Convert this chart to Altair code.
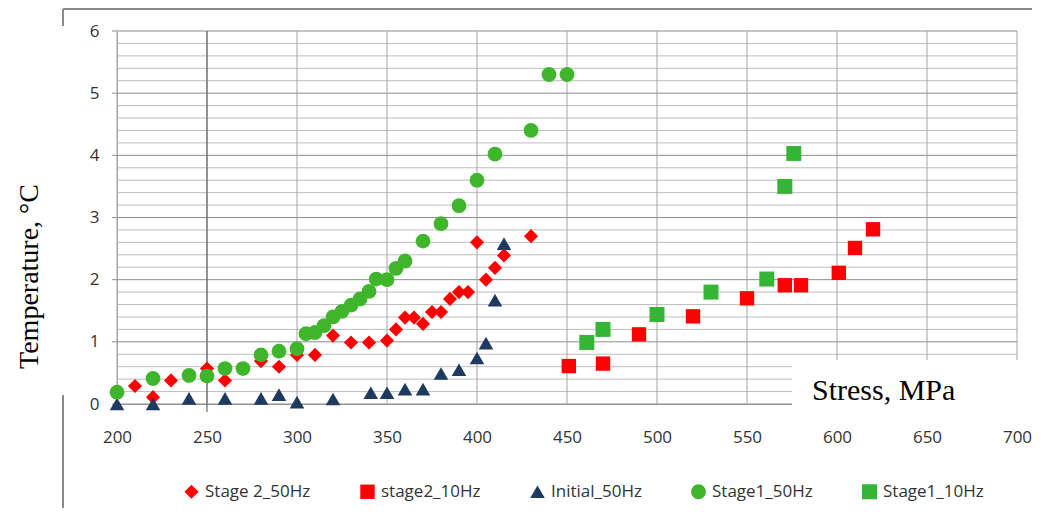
import altair as alt
import pandas as pd

series_names = ["Stage 2_50Hz", "stage2_10Hz", "Initial_50Hz", "Stage1_50Hz", "Stage1_10Hz"]
series_shapes = ["diamond", "square", "triangle-up", "circle", "square"]
series_colors = ["#ff0000", "#ff0000", "#1f3a60", "#3fb52b", "#35b535"]
series_sizes = [200, 225, 230, 290, 225]

stage2_50_x = [210, 220, 230, 250, 260, 280, 290, 300, 310, 320, 330, 340, 350, 355, 360, 365, 370, 375, 380, 385, 390, 395, 400, 405, 410, 415, 430]
stage2_50_y = [0.29, 0.11, 0.38, 0.57, 0.38, 0.69, 0.60, 0.79, 0.79, 1.10, 0.99, 0.99, 1.02, 1.20, 1.39, 1.39, 1.29, 1.48, 1.48, 1.69, 1.80, 1.80, 2.60, 2.00, 2.19, 2.39, 2.70]

stage2_10_x = [451, 470, 490, 520, 550, 571, 580, 601, 610, 620]
stage2_10_y = [0.61, 0.65, 1.12, 1.41, 1.70, 1.91, 1.91, 2.11, 2.51, 2.81]

initial_50_x = [200, 220, 240, 260, 280, 290, 300, 320, 341, 350, 360, 370, 380, 390, 400, 405, 410, 415]
initial_50_y = [0.0, 0.0, 0.09, 0.09, 0.09, 0.15, 0.03, 0.08, 0.18, 0.18, 0.24, 0.24, 0.49, 0.55, 0.74, 0.98, 1.67, 2.58]

stage1_50_x = [200, 220, 240, 250, 260, 270, 280, 290, 300, 305, 310, 315, 320, 325, 330, 335, 340, 344, 350, 355, 360, 370, 380, 390, 400, 410, 430, 440, 450]
stage1_50_y = [0.19, 0.41, 0.46, 0.45, 0.57, 0.57, 0.79, 0.85, 0.89, 1.13, 1.15, 1.26, 1.40, 1.49, 1.59, 1.69, 1.81, 2.01, 2.00, 2.18, 2.30, 2.62, 2.90, 3.19, 3.60, 4.02, 4.40, 5.30, 5.30]

stage1_10_x = [461, 470, 500, 530, 561, 571, 576]
stage1_10_y = [0.99, 1.20, 1.44, 1.80, 2.01, 3.50, 4.03]

x_ticks = [200, 250, 300, 350, 400, 450, 500, 550, 600, 650, 700]
x_dark = [250]
y_major = [0, 1, 2, 3, 4, 5, 6]
y_minor = [0.2, 0.4, 0.6, 0.8, 1.2, 1.4, 1.6, 1.8, 2.2, 2.4, 2.6, 2.8, 3.2, 3.4, 3.6, 3.8,
           4.2, 4.4, 4.6, 4.8, 5.2, 5.4, 5.6, 5.8]

rows = []
for name, xs, ys in zip(series_names,
                        [stage2_50_x, stage2_10_x, initial_50_x, stage1_50_x, stage1_10_x],
                        [stage2_50_y, stage2_10_y, initial_50_y, stage1_50_y, stage1_10_y]):
    for xv, yv in zip(xs, ys):
        rows.append({"series": name, "stress": xv, "temp": yv})
df = pd.DataFrame(rows)

W, H = 900, 373
xscale = alt.Scale(domain=[200, 700], nice=False, zero=False)
yscale = alt.Scale(domain=[0, 6], nice=False)

x_axis = alt.Axis(values=x_ticks, title=None, grid=False, ticks=False,
                  labelPadding=25,
                  labelFont="Open Sans", labelFontSize=17, labelColor="#333333",
                  domainColor="#9a9a9a", labelFlush=False)
y_axis = alt.Axis(values=y_major, title="Temperature, °C", format="d", grid=False,
                  ticks=False, labelPadding=18,
                  labelFont="Open Sans", labelFontSize=17, labelColor="#333333",
                  domainColor="#a6a6a6",
                  titleFont="Liberation Serif", titleFontSize=28, titleFontWeight="normal",
                  titleColor="#000000", titleAngle=-90, titleX=-88, titleY=245,
                  titleAlign="center", titleBaseline="middle", labelFlush=False)

minor_grid = alt.Chart(pd.DataFrame({"temp": y_minor})).mark_rule(color="#bdbdbd", strokeWidth=1).encode(
    y=alt.Y("temp:Q", scale=yscale, axis=y_axis, title="Temperature, °C"),
    x=alt.value(0), x2=alt.value(W))
major_grid = alt.Chart(pd.DataFrame({"temp": y_major})).mark_rule(color="#8c8c8c", strokeWidth=1).encode(
    y=alt.Y("temp:Q", scale=yscale, axis=y_axis, title="Temperature, °C"),
    x=alt.value(-5), x2=alt.value(W))
x_grid = alt.Chart(pd.DataFrame({"stress": x_ticks})).mark_rule(color="#a3a3a3", strokeWidth=1).encode(
    x=alt.X("stress:Q", scale=xscale, axis=x_axis, title=None),
    y=alt.value(0), y2=alt.value(H))
x_dark_grid = alt.Chart(pd.DataFrame({"stress": x_dark})).mark_rule(color="#6a6a6a", strokeWidth=1.2).encode(
    x=alt.X("stress:Q", scale=xscale, axis=x_axis, title=None),
    y=alt.value(0), y2=alt.value(H + 8))

legend_kw = dict(title=None, orient="none", direction="horizontal",
                 legendX=66, legendY=452, labelFont="Open Sans",
                 labelFontSize=17, labelColor="#333333",
                 symbolSize=100, columnPadding=48, labelOffset=5,
                 padding=0, symbolStrokeWidth=0)

points = alt.Chart(df).mark_point(filled=True, opacity=1).encode(
    x=alt.X("stress:Q", scale=xscale, axis=x_axis, title=None),
    y=alt.Y("temp:Q", scale=yscale, axis=y_axis, title="Temperature, °C"),
    shape=alt.Shape("series:N", scale=alt.Scale(domain=series_names, range=series_shapes),
                    legend=alt.Legend(**legend_kw)),
    color=alt.Color("series:N", scale=alt.Scale(domain=series_names, range=series_colors),
                    legend=alt.Legend(**legend_kw)),
    size=alt.Size("series:N", scale=alt.Scale(domain=series_names, range=series_sizes), legend=None),
)

deco = pd.DataFrame({"k": [0]})

border_top = alt.Chart(deco).mark_rule(color="#8a8a8a", strokeWidth=2).encode(
    x=alt.value(-54), x2=alt.value(930), y=alt.value(-22))
border_left1 = alt.Chart(deco).mark_rule(color="#8a8a8a", strokeWidth=2).encode(
    x=alt.value(-54), y=alt.value(-22), y2=alt.value(-5))
border_left2 = alt.Chart(deco).mark_rule(color="#8a8a8a", strokeWidth=2).encode(
    x=alt.value(-54), y=alt.value(364), y2=alt.value(520))

stress_box = alt.Chart(deco).mark_rect(color="white").encode(
    x=alt.value(675), x2=alt.value(930), y=alt.value(329), y2=alt.value(387))
stress_text = alt.Chart(deco).mark_text(
    text="Stress, MPa", font="Liberation Serif", fontSize=30, color="#000000",
    align="left", baseline="alphabetic").encode(
    x=alt.value(695), y=alt.value(369))

chart = alt.layer(minor_grid, major_grid, x_grid, x_dark_grid, points,
                  border_top, border_left1, border_left2, stress_box, stress_text).properties(
    width=W, height=H,
    autosize=alt.AutoSizeParams(type="none"),
    padding={"left": 109, "top": 23, "right": 15, "bottom": 104},
).configure_view(stroke=None)

chart.save("out.html", embed_options={"renderer": "svg", "actions": False})
